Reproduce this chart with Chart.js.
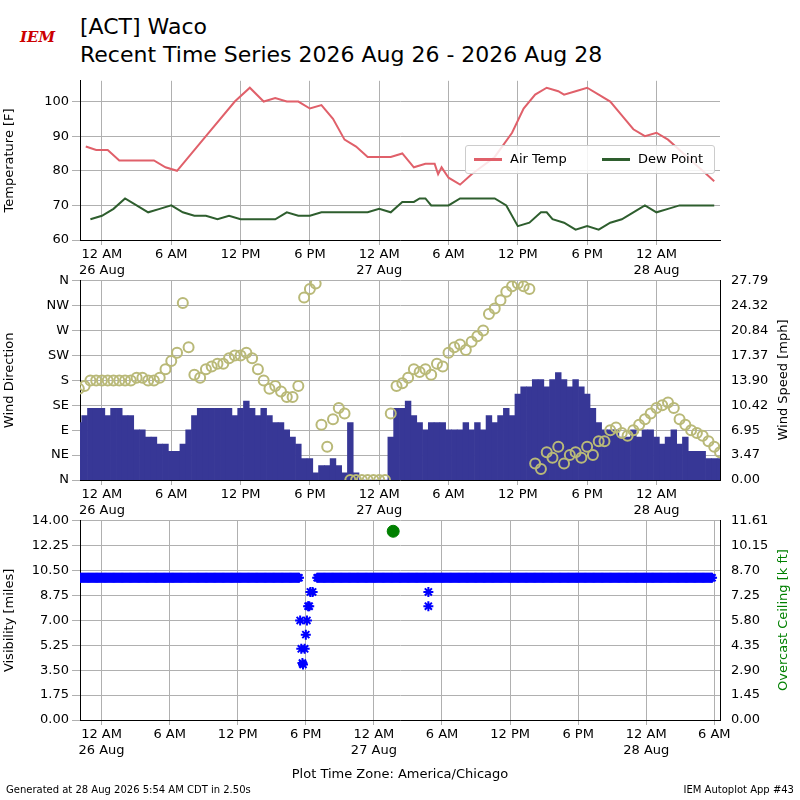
<!DOCTYPE html>
<html>
<head>
<meta charset="utf-8">
<script src="https://cdn.jsdelivr.net/npm/chart.js@4"></script>
<style>
body { margin: 0; width: 800px; height: 800px; background: #fff; font-family: "DejaVu Sans"; position: relative; overflow: hidden; }
canvas { position: absolute; left: 0; }
.t { position: absolute; white-space: nowrap; color: #000; }
.rt { position: absolute; white-space: nowrap; font-size: 13px; transform: translate(-50%, -50%) rotate(-90deg); }
#legend { position: absolute; left: 465px; top: 145px; width: 248px; height: 27px; background: rgba(255,255,255,0.85); border: 1px solid #ccc; border-radius: 3px; font-size: 13px; }
#legend span { position: absolute; top: 5px; }
#legend i { position: absolute; top: 12px; width: 28px; height: 3px; }
</style>
</head>
<body>
<div class="t" style="left:14px;top:8px;width:50px;height:40px;color:#c00;font:italic bold 15px 'DejaVu Serif';"><span style="position:absolute;top:20px;left:6px">IEM</span></div>
<div class="t" style="left:80px;top:14px;font-size:22px;">[ACT] Waco</div>
<div class="t" style="left:80px;top:42px;font-size:22px;">Recent Time Series 2026 Aug 26 - 2026 Aug 28</div>
<canvas id="c1" width="800" height="213" style="top:70px"></canvas>
<canvas id="c2" width="800" height="253" style="top:270px"></canvas>
<canvas id="c3" width="800" height="253" style="top:510px"></canvas>
<div id="legend">
  <i style="left:8px;background:#e0606a"></i><span style="left:44px">Air Temp</span>
  <i style="left:136px;background:#2e5e2e"></i><span style="left:172px">Dew Point</span>
</div>
<div class="rt" style="left:782px;top:380px;">Wind Speed [mph]</div>
<div class="rt" style="left:782px;top:620px;color:#008000;">Overcast Ceiling [k ft]</div>
<div class="t" style="left:0;width:800px;text-align:center;top:766px;font-size:13px;">Plot Time Zone: America/Chicago</div>
<div class="t" style="left:6px;top:784px;font-size:10px;">Generated at 28 Aug 2026 5:54 AM CDT in 2.50s</div>
<div class="t" style="right:6px;top:784px;font-size:10px;">IEM Autoplot App #43</div>
<script>
Chart.defaults.font.family = "DejaVu Sans";
Chart.defaults.font.size = 13;
Chart.defaults.color = "#000";
Chart.defaults.animation = false;

// hours since 26 Aug 00:00 local
var temps = [[-1.4,87],[-0.5,86],[0.5,86],[1.5,83],[3,83],[4.5,83],[5.5,81],[6.5,80],[9,90],[11.5,100],[12.8,104],[14,100],[15,101],[16,100],[17,100],[18,98],[19,99],[20,95],[21,89],[22,87],[23,84],[24,84],[25,84],[26,85],[27,81],[28,82],[28.8,82],[29.1,79],[29.4,81],[30,78],[31,76],[32,79],[34,84],[35.5,91],[36.5,98],[37.5,102],[38.5,104],[39.5,103],[40,102],[41,103],[42,104],[43,102],[44,100],[45,96],[46,92],[47,90],[48,91],[49,89],[50,86],[51,83],[52,80],[53,77]];
var dews = [[-1,66],[0,67],[1,69],[2,72],[3,70],[4,68],[5,69],[6,70],[7,68],[8,67],[9,67],[10,66],[11,67],[12,66],[13,66],[14,66],[15,66],[16,68],[17,67],[18,67],[19,68],[20,68],[21,68],[22,68],[23,68],[24,69],[25,68],[26,71],[27,71],[27.5,72],[28,72],[28.5,70],[29,70],[30,70],[31,72],[32,72],[33,72],[34,72],[35,70],[36,64],[37,65],[38,68],[38.5,68],[39,66],[40,65],[41,63],[42,64],[43,63],[44,65],[45,66],[46,68],[47,70],[48,68],[49,69],[50,70],[51,70],[52,70],[53,70]];

// half-hourly from -2h
var windDir = [165,170,180,180,180,180,180,180,180,180,185,185,
  180,180,185,200,215,230,320,240,
  190,185,200,205,210,210,220,225,
  225,230,220,200,180,165,170,160,
  150,150,170,330,
  345,355,100,60,110,130,120,0,0,0,0,0,
  0,0,120,170,
  175,185,200,195,200,190,210,205,
  230,240,245,235,250,260,270,300,
  310,325,340,350,
  355,350,345,30,20,50,40,60,
  30,45,50,40,60,45,70,70,
  90,95,85,80,90,100,110,120,
  130,135,140,130,110,100,90,85,
  80,70,60,50];
var windSpd = [8,9,10,10,10,9,10,10,9,9,7,7,
  6,6,5,5,4,4,5,7,
  9,10,10,10,10,10,10,9,
  10,11,10,9,10,9,8,8,
  7,6,5,3,
  3,1,2,2,3,2,1,8,1,0,0,0,
  0,0,6,10,
  10,11,9,8,7,8,8,8,
  7,7,7,8,7,8,7,9,8,9,10,9,
  12,13,13,14,14,13,14,15,
  14,13,14,13,12,10,8,7,
  7,7,6,6,7,6,7,7,
  6,5,6,7,5,6,4,4,
  4,3,3,3];
var dirPts = [], spdPts = [];
windDir.forEach(function (d, i) { dirPts.push({x: -2 + i * 0.5, y: d}); });
windSpd.forEach(function (s, i) { spdPts.push({x: -2 + i * 0.5, y: s}); });

var visPts = [];
for (var h = -1.9; h < 53.9; h += 0.1) {
    if (h > 17.4 && h < 19.0) continue;
    visPts.push({x: h, y: 10});
}
[[17.5,7],[17.6,5],[17.7,4],[17.75,3.9],[17.9,5],[18.0,6],[18.1,7],[18.2,8],[18.3,8],[18.4,9],[18.6,9],[28.8,9],[28.8,8]].forEach(function (p) { visPts.push({x: p[0], y: p[1]}); });
var ceiling = [{x: 25.7, y: 11.0}];

function timeTicks(ax) {
    var out = [];
    for (var v = 0; v <= ax.max; v += 6) out.push({value: v});
    ax.ticks = out;
}
function timeLabel(v) {
    var hr = ((v % 24) + 24) % 24;
    var s = hr === 0 ? "12 AM" : hr === 12 ? "12 PM" : hr < 12 ? hr + " AM" : (hr - 12) + " PM";
    if (hr === 0) return [s, (26 + v / 24) + " Aug"];
    return s;
}
function xAxis(max) {
    return {
        type: 'linear', min: -1.9, max: max, offset: false,
        afterBuildTicks: timeTicks,
        afterFit: function (a) { a.height = 43; },
        grid: {color: '#b0b0b0', drawTicks: true, tickLength: 5, offset: false},
        border: {color: '#000'},
        ticks: {callback: timeLabel, maxRotation: 0, autoSkip: false, padding: 2}
    };
}
function fixedTicks(vals) {
    return function (a) { a.ticks = vals.map(function (v) { return {value: v}; }); };
}

new Chart(document.getElementById("c1"), {
    type: 'line',
    data: {datasets: [
        {data: temps.map(function (p) { return {x: p[0], y: p[1]}; }), borderColor: '#e0606a', borderWidth: 2, pointRadius: 0},
        {data: dews.map(function (p) { return {x: p[0], y: p[1]}; }), borderColor: '#2e5e2e', borderWidth: 2, pointRadius: 0}
    ]},
    options: {
        responsive: false,
        layout: {padding: {top: 10, right: 80, left: 0, bottom: 0}},
        plugins: {legend: {display: false}, tooltip: {enabled: false}},
        scales: {
            x: xAxis(53.5),
            y: {min: 60, max: 106, afterBuildTicks: fixedTicks([60,70,80,90,100]),
                afterFit: function (a) { a.width = 80; },
                grid: {color: '#b0b0b0'}, border: {color: '#000'},
                title: {display: true, text: 'Temperature [F]', padding: 2}}
        }
    }
});

var dirNames = {0:'N',45:'NE',90:'E',135:'SE',180:'S',225:'SW',270:'W',315:'NW',360:'N'};
var spdLabels = ['0.00','3.47','6.95','10.42','13.90','17.37','20.84','24.32','27.79'];
new Chart(document.getElementById("c2"), {
    data: {datasets: [
        {type: 'scatter', data: dirPts, yAxisID: 'y', borderColor: 'rgb(185,185,120)', backgroundColor: 'rgba(0,0,0,0)', pointRadius: 5, borderWidth: 2},
        {type: 'bar', data: spdPts, yAxisID: 'y2', backgroundColor: 'rgb(55,55,150)', barPercentage: 1, categoryPercentage: 1}
    ]},
    options: {
        responsive: false,
        layout: {padding: {top: 10, right: 0, left: 0, bottom: 0}},
        plugins: {legend: {display: false}, tooltip: {enabled: false}},
        scales: {
            x: xAxis(53.5),
            y: {min: 0, max: 360, position: 'left', afterBuildTicks: fixedTicks([0,45,90,135,180,225,270,315,360]),
                ticks: {callback: function (v) { return dirNames[v]; }},
                afterFit: function (a) { a.width = 80; },
                grid: {color: '#b0b0b0'}, border: {color: '#000'},
                title: {display: true, text: 'Wind Direction', padding: 2}},
            y2: {min: 0, max: 27.79, position: 'right',
                afterBuildTicks: fixedTicks([0,1,2,3,4,5,6,7,8].map(function (k) { return k * 27.79 / 8; })),
                ticks: {callback: function (v, i) { return spdLabels[i]; }},
                afterFit: function (a) { a.width = 80; },
                grid: {display: false}, border: {color: '#000'}}
        }
    }
});

var ceilLabels = ['0.00','1.45','2.90','4.35','5.80','7.25','8.70','10.15','11.61'];
new Chart(document.getElementById("c3"), {
    type: 'scatter',
    data: {datasets: [
        {data: visPts, yAxisID: 'y', pointStyle: 'star', pointRadius: 5, borderColor: '#0000ff', backgroundColor: '#0000ff', borderWidth: 2},
        {data: ceiling, yAxisID: 'y2', pointStyle: 'circle', pointRadius: 6, borderColor: '#008000', backgroundColor: '#008000'}
    ]},
    options: {
        responsive: false,
        layout: {padding: {top: 10, right: 0, left: 0, bottom: 0}},
        plugins: {legend: {display: false}, tooltip: {enabled: false}},
        scales: {
            x: xAxis(54.5),
            y: {min: 0, max: 14, position: 'left',
                afterBuildTicks: fixedTicks([0,1.75,3.5,5.25,7,8.75,10.5,12.25,14]),
                ticks: {callback: function (v) { return v.toFixed(2); }},
                afterFit: function (a) { a.width = 80; },
                grid: {color: '#b0b0b0'}, border: {color: '#000'},
                title: {display: true, text: 'Visibility [miles]', padding: 2}},
            y2: {min: 0, max: 11.61, position: 'right',
                afterBuildTicks: fixedTicks([0,1,2,3,4,5,6,7,8].map(function (k) { return k * 11.61 / 8; })),
                ticks: {callback: function (v, i) { return ceilLabels[i]; }},
                afterFit: function (a) { a.width = 80; },
                grid: {display: false}, border: {color: '#000'}}
        }
    }
});
</script>
</body>
</html>
